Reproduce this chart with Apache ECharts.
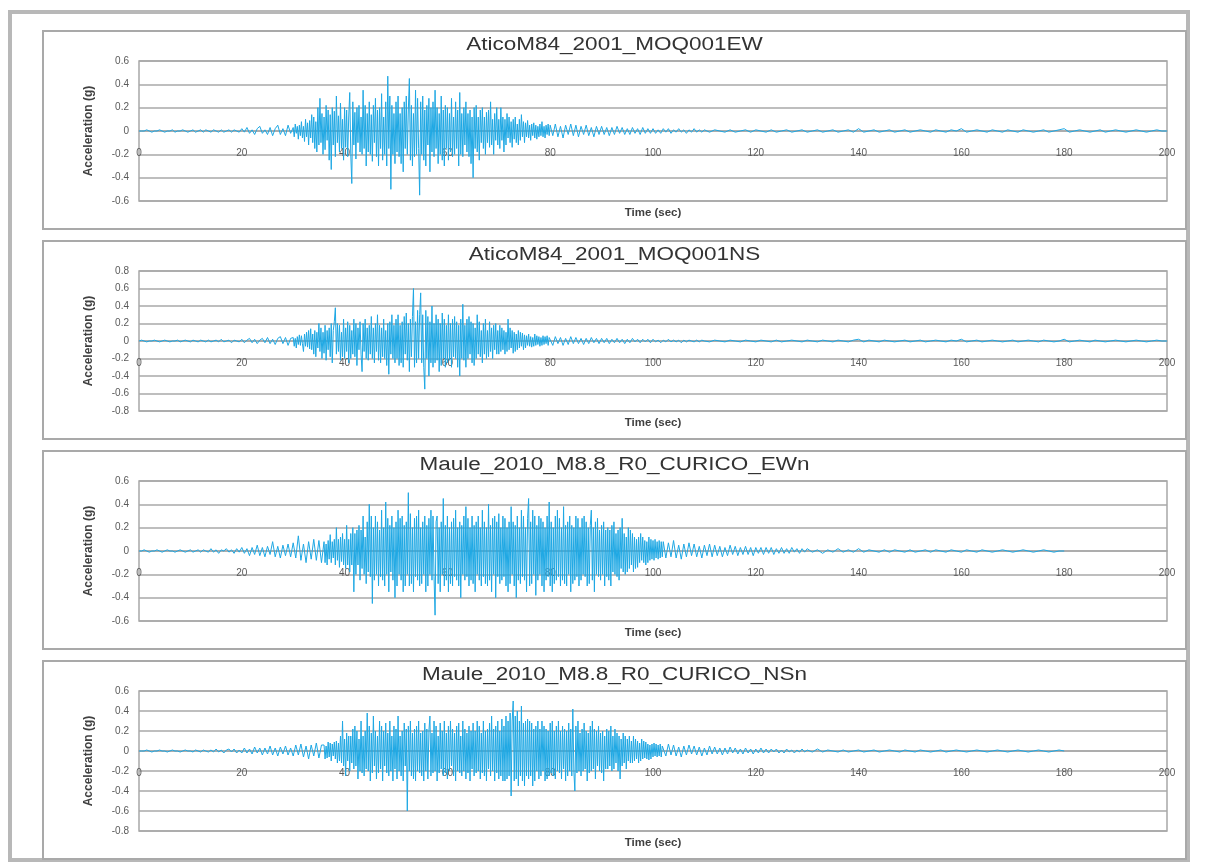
<!DOCTYPE html>
<html><head><meta charset="utf-8">
<script src="https://cdn.jsdelivr.net/npm/echarts@6/dist/echarts.min.js"></script>
<style>html,body{margin:0;padding:0;background:#fff;}#c{width:1207px;height:868px;}</style>
</head><body><div id="c"></div>
<script>
const titles = ['AticoM84_2001_MOQ001EW', 'AticoM84_2001_MOQ001NS', 'Maule_2010_M8.8_R0_CURICO_EWn', 'Maule_2010_M8.8_R0_CURICO_NSn'];
const yMins = [-0.6, -0.8, -0.6, -0.8];
const yMaxs = [0.6, 0.8, 0.6, 0.6];
const xMin = 0, xMax = 200, xStep = 20, yStep = 0.2;
const xName = 'Time (sec)';
const yName = 'Acceleration (g)';

// sampling of each record segment: [start time (s), step (s)]
const aticoSegs = [[0, 0.5], [30, 0.2], [80, 0.5], [110, 1]];
const mauleSegs = [[0, 0.5], [36, 0.2], [102, 0.5], [130, 1]];

// ---- AticoM84_2001_MOQ001EW, acceleration (g) ----
const aticoEW_pre = [
0,0,0,0.01,0,-0.01,0,0,0.01,0,-0.01,0,0,0.01,-0.01,0,0,0.01,0,-0.01,
0,0.01,-0.01,0,0.01,-0.01,0.01,0,-0.01,0.01,0,-0.01,0.01,-0.01,0,0.01,-0.01,0.01,0,-0.01,
0.02,-0.01,0.03,-0.02,0.01,-0.03,0.02,0.04,-0.02,0.01,-0.03,0.03,-0.04,0.02,0.05,-0.03,0.02,-0.04,0.05,-0.02];
const aticoEW_main = [
0.03,-0.05,0.06,-0.02,0.04, -0.07,0.05,-0.04,0.08,-0.06, 0.04,-0.09,0.1,-0.05,0.07, -0.12,0.09,-0.06,0.14,-0.1, 0.12,-0.15,0.08,-0.18,0.2,
-0.12,0.28,-0.1,0.15,-0.2, 0.12,-0.16,0.22,-0.08,0.18, -0.25,0.14,-0.33,0.2,-0.12, 0.17,-0.22,0.3,-0.1,0.13, -0.18,0.24,-0.15,0.1,-0.25,
0.2,-0.14,0.18,-0.22,0.12, 0.33,-0.2,-0.45,0.25,-0.12, 0.16,-0.24,0.2,-0.1,0.22, -0.18,0.12,-0.2,0.35,-0.15, 0.22,-0.3,0.15,-0.18,0.25,
-0.2,0.14,-0.26,0.22,-0.1, 0.28,-0.22,0.18,-0.3,0.2, -0.15,0.32,-0.25,0.12,-0.2, 0.25,-0.3,0.47,-0.15,0.3, -0.5,0.22,-0.2,0.15,-0.28,
0.25,-0.18,0.3,-0.22,0.15, -0.28,0.2,-0.35,0.25,-0.15, 0.3,-0.2,0.18,0.45,-0.25, 0.22,-0.3,0.15,-0.22,0.35, -0.2,0.28,-0.15,-0.55,0.25,
-0.2,0.3,-0.25,0.18,-0.3, 0.22,-0.12,0.28,-0.35,0.2, -0.18,0.25,-0.22,0.35,-0.15, 0.2,-0.28,0.15,-0.2,0.3, -0.25,0.18,-0.3,0.22,-0.15,
0.2,-0.25,0.15,-0.18,0.28, -0.22,0.12,-0.2,0.25,-0.15, 0.18,-0.3,0.33,-0.2,0.15, -0.22,0.2,-0.12,0.25,-0.18, 0.15,-0.22,0.18,-0.28,0.12,
-0.4,0.2,-0.15,0.22,-0.18, 0.12,-0.25,0.18,-0.1,0.2, -0.15,0.12,-0.2,0.16,-0.1, 0.18,-0.14,0.25,-0.12,0.1, -0.2,0.15,-0.08,0.2,-0.12,
0.1,-0.15,0.2,-0.08,0.12, -0.18,0.1,-0.12,0.15,-0.06, 0.12,-0.1,0.08,-0.14,0.1, -0.07,0.12,-0.1,0.06,-0.12, 0.1,-0.08,0.14,-0.05,0.08,
-0.1,0.07,-0.05,0.09,-0.06, 0.05,-0.08,0.06,-0.04,0.07, -0.06,0.05,-0.07,0.04,-0.05, 0.06,-0.04,0.08,-0.05,0.04, -0.06,0.05,-0.03,0.06,-0.04];
const aticoEW_post = [
0.05,-0.04,0.06,-0.05,0.04,-0.06,0.05,-0.03,0.06,-0.04,0.05,-0.05,0.04,-0.03,0.05,-0.04,0.03,-0.05,0.04,-0.03,
0.04,-0.03,0.03,-0.04,0.03,-0.03,0.04,-0.02,0.03,-0.03,0.02,-0.03,0.03,-0.02,0.02,-0.03,0.03,-0.02,0.02,-0.02,
0.02,-0.02,0.01,-0.02,0.02,-0.01,0.02,-0.02,0.01,-0.01,0.02,-0.01,0.01,-0.02,0.01,-0.01,0.02,-0.01,0.01,-0.01];
const aticoEW_tail = [
0.01,-0.01,0.01,0,-0.01,0.01,-0.01,0,0.01,-0.01, 0.01,0,-0.01,0.01,-0.01,0,0.01,-0.01,0,0.01, -0.01,0,0.01,-0.01,0,0.01,-0.01,0,0.01,-0.01,
0.02,-0.01,0,0.01,-0.01,0,0.01,-0.01,0,0.01, -0.01,0,0.01,0,-0.01,0.01,0,-0.01,0.01,0, 0.02,-0.01,0,0.01,0,-0.01,0.01,0,-0.01,0.01,
0,-0.01,0.01,0,-0.01,0,0.01,-0.01,0,0.01, 0.02,-0.01,0,0.01,0,-0.01,0,0.01,-0.01,0, 0.01,0,-0.01,0,0.01,0,-0.01,0,0.01,0, 0];

// ---- AticoM84_2001_MOQ001NS ----
const aticoNS_pre = [
0,0.01,0,-0.01,0,0,0.01,0,-0.01,0,0.01,0,-0.01,0,0,0.01,-0.01,0,0.01,0,
-0.01,0.01,0,-0.01,0.01,0,-0.01,0.01,-0.01,0,0.01,-0.01,0.02,-0.01,0,0.01,-0.02,0.01,0,-0.01,
0.02,-0.02,0.01,0.03,-0.02,0.02,-0.03,0.01,0.03,-0.02,0.04,-0.03,0.02,-0.04,0.03,0.05,-0.03,0.04,-0.05,0.03];
const aticoNS_main = [
0.04,-0.06,0.03,-0.08,0.05, -0.04,0.07,-0.05,0.06,-0.03, -0.12,0.08,-0.06,0.1,-0.07, 0.12,-0.09,0.14,-0.1,0.08, -0.15,0.12,-0.18,0.1,-0.08,
0.2,-0.12,0.15,-0.2,0.1, -0.14,0.18,-0.22,0.12,-0.1, 0.15,-0.18,0.2,-0.25,0.12, 0.22,0.38,-0.15,0.2,-0.12, 0.18,-0.22,0.1,-0.18,0.25,
-0.2,0.15,-0.12,0.22,-0.25, 0.18,-0.2,0.12,-0.15,0.25, -0.18,0.2,-0.28,0.15,-0.1, 0.22,-0.15,-0.35,0.2,-0.12, 0.25,-0.2,0.15,-0.22,0.18,
-0.15,0.28,-0.2,0.15,-0.25, 0.2,-0.12,0.3,-0.22,0.18, -0.25,0.15,-0.18,0.25,-0.2, 0.12,-0.28,0.2,-0.38,0.22, -0.15,0.3,-0.2,0.18,-0.25,
0.25,-0.2,0.3,-0.28,0.18, -0.25,0.22,-0.3,0.28,-0.15, 0.32,-0.22,0.2,-0.35,0.25, -0.18,0.28,0.6,-0.3,0.22, -0.25,0.35,-0.2,0.3,0.55,
-0.25,0.3,-0.3,-0.55,0.35, -0.2,0.28,-0.4,0.22,-0.25, 0.4,-0.3,0.2,-0.25,0.3, -0.22,0.25,-0.35,0.2,-0.28, 0.32,-0.2,0.25,-0.3,0.18,
-0.25,0.3,-0.22,0.2,-0.3, 0.25,-0.18,0.28,-0.2,0.22, -0.3,0.18,-0.4,0.25,-0.2, 0.42,-0.22,0.18,-0.3,0.25, -0.2,0.28,-0.15,0.22,-0.25,
0.2,-0.28,0.15,-0.2,0.3, -0.15,0.22,-0.18,0.12,-0.25, 0.2,-0.15,0.25,-0.2,0.12, -0.18,0.22,-0.12,0.15,-0.2, 0.18,-0.1,0.2,-0.15,0.12,
-0.15,0.18,-0.12,0.15,-0.1, 0.12,-0.15,0.1,-0.12,0.25, -0.1,0.15,-0.08,0.12,-0.14, 0.1,-0.12,0.08,-0.1,0.12, -0.08,0.1,-0.06,0.09,-0.1,
0.07,-0.08,0.06,-0.05,0.08, -0.06,0.05,-0.07,0.04,-0.06, 0.08,-0.05,0.06,-0.04,0.05, -0.06,0.04,-0.05,0.06,-0.04, 0.05,-0.03,0.06,-0.05,0.04];
const aticoNS_post = [
0.04,-0.05,0.05,-0.03,0.04,-0.05,0.03,-0.04,0.05,-0.03,0.04,-0.03,0.03,-0.04,0.03,-0.03,0.04,-0.02,0.03,-0.03,
0.03,-0.02,0.03,-0.03,0.02,-0.02,0.03,-0.02,0.02,-0.03,0.02,-0.02,0.03,-0.01,0.02,-0.02,0.02,-0.01,0.02,-0.02,
0.02,-0.01,0.01,-0.02,0.01,-0.01,0.02,-0.01,0.01,-0.01,0.01,-0.02,0.01,-0.01,0.01,0,-0.01,0.01,-0.01,0.01];
const aticoNS_tail = [
0,-0.01,0.01,0,-0.01,0.01,0,-0.01,0.01,0, -0.01,0.01,0,-0.01,0.01,-0.01,0,0.01,0,-0.01, 0.01,0,-0.01,0.01,0,-0.01,0.01,0,-0.01,0.01,
0.02,-0.01,0.01,0,-0.01,0.01,0,-0.01,0,0.01, -0.01,0,0.01,-0.01,0,0.01,0,-0.01,0.01,0, 0.02,-0.01,0,0.01,-0.01,0,0.01,0,-0.01,0,
0.01,-0.01,0,0.01,0,-0.01,0.01,0,-0.01,0, 0.02,-0.01,0,0.01,0,-0.01,0.01,0,-0.01,0, 0.01,0,-0.01,0,0.01,0,-0.01,0,0.01,0, 0];

// ---- Maule_2010_M8.8_R0_CURICO_EWn ----
const mauleEW_pre = [
0,0,0.01,0,-0.01,0,0,0.01,0,-0.01,0,0.01,0,0,-0.01,0,0.01,0,-0.01,0,
0.01,-0.01,0,0.01,-0.01,0.01,0,-0.01,0.02,-0.01,0.01,-0.02,0.01,0,0.02,-0.01,0.01,-0.02,0.02,-0.01,
0.03,-0.02,0.02,-0.04,0.03,-0.03,0.05,-0.04,0.03,-0.05,0.04,-0.03,0.08,-0.05,0.04,-0.06,0.05,-0.04,0.06,-0.05,
0.07,-0.06,0.13,-0.08,0.06,-0.1,0.08,-0.07,0.1,-0.08,0.09,-0.1];
const mauleEW_main = [
0.08,-0.1,0.06,-0.12,0.09, -0.07,0.14,-0.1,0.08,-0.06, 0.1,-0.12,0.2,-0.08,0.1, -0.14,0.12,-0.09,0.15,-0.12, 0.1,-0.15,0.22,-0.12,0.1,
-0.18,0.15,-0.12,0.2,-0.35, 0.15,-0.2,0.18,-0.12,0.22, -0.25,0.18,-0.15,0.3,-0.2, 0.12,-0.28,0.25,-0.18,0.4, -0.22,0.3,-0.45,0.2,-0.25,
0.3,-0.2,0.25,-0.3,0.18, -0.22,0.35,-0.25,0.2,-0.3, 0.42,-0.2,0.28,-0.35,0.22, -0.18,0.3,-0.25,0.2,-0.4, 0.25,-0.3,0.35,-0.2,0.28,
-0.25,0.3,-0.35,0.22,-0.3, 0.25,-0.2,0.5,-0.3,0.32, -0.28,0.2,-0.35,0.28,-0.22, 0.3,-0.25,0.35,-0.3,0.2, -0.28,0.25,-0.2,0.3,-0.35,
0.22,-0.3,0.28,-0.2,0.35, -0.25,0.3,-0.22,-0.55,0.25, 0.3,-0.28,0.2,-0.35,0.25, -0.2,0.45,-0.3,0.22,-0.25, 0.3,-0.35,0.2,-0.28,0.25,
-0.3,0.28,-0.22,0.35,-0.25, 0.2,-0.3,0.25,-0.4,0.22, -0.2,0.3,-0.25,0.38,-0.22, 0.28,-0.3,0.2,-0.25,0.3, -0.28,0.22,-0.35,0.25,-0.2,
0.3,-0.25,0.2,-0.3,0.35, -0.22,0.25,-0.28,0.2,-0.3, 0.4,-0.25,0.22,-0.35,0.28, -0.2,0.3,-0.4,0.25,-0.22, 0.32,-0.28,0.2,-0.25,0.3,
-0.22,0.28,-0.3,0.2,-0.35, 0.25,-0.28,0.38,-0.2,0.25, -0.3,0.22,-0.4,0.3,-0.25, 0.2,-0.28,0.35,-0.22,0.3, -0.25,0.2,-0.35,0.28,0.45,
-0.3,0.25,-0.28,0.35,-0.2, 0.3,-0.38,0.22,-0.25,0.3, -0.2,0.28,-0.3,0.25,-0.35, 0.2,-0.25,0.3,-0.22,0.42, -0.3,0.25,-0.35,0.2,-0.28,
0.3,-0.25,0.35,-0.22,0.28, -0.3,0.2,-0.25,0.38,-0.28, 0.22,-0.3,0.25,-0.2,0.3, -0.35,0.22,-0.28,0.2,-0.25, 0.3,-0.22,0.28,-0.3,0.2,
-0.25,0.28,-0.2,0.3,-0.22, 0.25,-0.3,0.2,-0.28,0.22, 0.35,-0.25,0.2,-0.35,0.25, -0.2,0.28,-0.22,0.18,-0.25, 0.22,-0.2,0.25,-0.3,0.18,
-0.22,0.2,-0.25,0.18,-0.3, 0.22,-0.18,0.25,-0.2,0.15, -0.22,0.18,-0.25,0.2,-0.15, 0.28,-0.18,0.15,-0.2,0.12, -0.18,0.2,-0.15,0.18,-0.12,
0.15,-0.18,0.12,-0.15,0.1, -0.14,0.12,-0.1,0.15,-0.08, 0.12,-0.1,0.09,-0.12,0.08, -0.1,0.12,-0.08,0.1,-0.07, 0.09,-0.08,0.1,-0.06,0.08,
-0.07,0.09,-0.06,0.08,-0.05];
const mauleEW_post = [
0.08,-0.06,0.07,-0.05,0.09,-0.06,0.05,-0.07,0.06,-0.05,0.07,-0.04,0.06,-0.05,0.04,-0.06,0.05,-0.04,0.06,-0.05,
0.05,-0.04,0.04,-0.05,0.03,-0.04,0.05,-0.03,0.04,-0.04,0.03,-0.03,0.04,-0.03,0.03,-0.04,0.03,-0.02,0.03,-0.03,
0.03,-0.02,0.03,-0.03,0.02,-0.02,0.03,-0.02,0.02,-0.02,0.03,-0.01,0.02,-0.02,0.02,-0.01];
const mauleEW_tail = [
0.02,-0.01,0.01,-0.02,0.01,-0.01,0.02,-0.01,0.01,-0.01, 0.02,-0.01,0.01,0,-0.01,0.01,-0.01,0.01,0,-0.01,
0.01,-0.01,0,0.01,-0.01,0.01,0,-0.01,0.01,0, -0.01,0.01,0,-0.01,0.01,0,-0.01,0,0.01,0,
-0.01,0,0.01,0,-0.01,0,0.01,0,-0.01,0, 0];

// ---- Maule_2010_M8.8_R0_CURICO_NSn ----
const mauleNS_pre = [
0,0,0,0.01,0,-0.01,0,0,0.01,0,0,-0.01,0,0.01,0,0,-0.01,0,0.01,0,
0,-0.01,0.01,0,-0.01,0.01,0,-0.01,0.01,-0.01,0.02,-0.01,0.01,-0.02,0.01,0.02,-0.01,0.02,-0.02,0.01,
-0.02,0.03,-0.02,0.02,-0.03,0.04,-0.02,0.03,-0.04,0.03,-0.03,0.05,-0.04,0.03,-0.05,0.04,-0.03,0.05,-0.04,0.03,
-0.05,0.06,-0.04,0.07,-0.06,0.05,-0.08,0.06,-0.05,0.08,-0.07,0.06];
const mauleNS_main = [
0.06,-0.08,0.05,-0.07,0.09, -0.06,0.08,-0.1,0.07,-0.05, 0.09,-0.08,0.1,-0.12,0.08, -0.1,0.15,-0.12,0.3,-0.15, 0.12,-0.25,0.18,-0.1,0.15,
-0.2,0.15,-0.12,0.22,-0.18, 0.25,-0.15,0.2,-0.28,0.12, -0.2,0.3,-0.22,0.15,-0.25, 0.2,-0.18,0.38,-0.2,0.25, -0.3,0.18,-0.22,0.35,-0.15,
0.2,-0.28,0.15,-0.22,0.3, -0.18,0.25,-0.3,0.2,-0.15, 0.28,-0.22,0.18,-0.25,0.3, -0.2,0.15,-0.3,0.25,-0.18, 0.22,-0.28,0.35,-0.2,0.15,
-0.25,0.2,-0.3,0.28,-0.15, 0.22,-0.6,0.25,-0.2,0.3, -0.25,0.18,-0.28,0.22,-0.3, 0.25,-0.2,0.3,-0.22,0.18, -0.25,0.2,-0.3,0.28,-0.2,
0.22,-0.28,0.2,0.35,-0.25, 0.18,-0.22,0.3,-0.2,0.25, -0.3,0.15,-0.22,0.28,-0.18, 0.2,-0.25,0.3,-0.22,0.18, -0.28,0.25,-0.2,0.3,-0.15,
0.22,-0.25,0.18,-0.3,0.25, -0.2,0.28,-0.22,0.15,-0.25, 0.3,-0.2,0.22,-0.28,0.18, -0.22,0.25,-0.3,0.2,-0.18, 0.28,-0.25,0.2,-0.22,0.3,
-0.2,0.25,-0.28,0.18,-0.22, 0.3,-0.25,0.2,-0.3,0.22, -0.18,0.28,-0.25,0.35,-0.2, 0.22,-0.3,0.25,-0.22,0.3, -0.28,0.2,-0.25,0.32,-0.3,
0.25,-0.3,0.35,-0.28,0.3, -0.25,0.38,-0.45,0.3,0.5, -0.3,0.35,-0.28,0.4,-0.35, 0.3,-0.25,0.45,-0.3,0.28, -0.35,0.3,-0.25,0.32,-0.28,
0.3,-0.25,0.28,-0.35,0.22, -0.3,0.25,-0.2,0.3,-0.28, 0.22,-0.25,0.3,-0.2,0.25, -0.3,0.22,-0.28,0.2,-0.25, 0.28,-0.22,0.3,-0.25,0.2,
-0.28,0.25,-0.2,0.3,-0.22, 0.2,-0.28,0.25,-0.18,0.22, -0.3,0.2,-0.25,0.28,-0.2, 0.22,-0.25,0.42,-0.2,-0.4, 0.25,-0.22,0.3,-0.2,0.18,
-0.25,0.22,-0.2,0.28,-0.18, 0.2,-0.3,0.18,-0.22,0.25, -0.2,0.3,-0.18,0.22,-0.28, 0.2,-0.15,0.25,-0.2,0.18, -0.22,0.2,-0.3,0.15,-0.18,
0.22,-0.18,0.2,-0.15,0.25, -0.2,0.15,-0.18,0.22,-0.12, 0.18,-0.2,0.15,-0.28,0.12, -0.15,0.18,-0.12,0.15,-0.18, 0.12,-0.1,0.15,-0.12,0.1,
-0.12,0.15,-0.1,0.12,-0.08, 0.1,-0.12,0.08,-0.1,0.12, -0.08,0.1,-0.07,0.09,-0.08, 0.07,-0.09,0.06,-0.08,0.07, -0.06,0.08,-0.05,0.07,-0.06,
0.06,-0.05,0.07,-0.06,0.05];
const mauleNS_post = [
0.06,-0.05,0.07,-0.04,0.06,-0.05,0.04,-0.06,0.05,-0.04,0.06,-0.03,0.05,-0.04,0.04,-0.05,0.03,-0.04,0.05,-0.03,
0.04,-0.03,0.03,-0.04,0.03,-0.03,0.04,-0.02,0.03,-0.03,0.02,-0.03,0.03,-0.02,0.02,-0.03,0.02,-0.02,0.03,-0.02,
0.02,-0.02,0.02,-0.01,0.02,-0.02,0.01,-0.02,0.02,-0.01,0.01,-0.02,0.01,-0.01,0.02,-0.01];
const mauleNS_tail = [
0.01,-0.01,0.02,-0.01,0.01,0,-0.01,0.01,-0.01,0, 0.01,-0.01,0,0.01,-0.01,0,0.01,0,-0.01,0.01,
0,-0.01,0.01,0,-0.01,0,0.01,-0.01,0,0.01, 0,-0.01,0,0.01,0,-0.01,0,0.01,0,-0.01,
0,0.01,0,-0.01,0,0.01,0,-0.01,0,0.01, 0];

const records = [
  {parts: [aticoEW_pre, aticoEW_main, aticoEW_post, aticoEW_tail], segs: aticoSegs},
  {parts: [aticoNS_pre, aticoNS_main, aticoNS_post, aticoNS_tail], segs: aticoSegs},
  {parts: [mauleEW_pre, mauleEW_main, mauleEW_post, mauleEW_tail], segs: mauleSegs},
  {parts: [mauleNS_pre, mauleNS_main, mauleNS_post, mauleNS_tail], segs: mauleSegs}
];
function assemble(rec) {
  const out = [];
  rec.parts.forEach((arr, j) => {
    const [t0, step] = rec.segs[j];
    arr.forEach((v, k) => out.push([Math.round((t0 + k * step) * 100) / 100, v]));
  });
  return out;
}

// ---- layout ----
const plotLeft = 139, plotWidth = 1028, plotHeight = 140;
const plotTops = [61, 271, 481, 691];
const boxLeft = 43, boxRight = 1186;
const lineColor = '#1ea8e4';
const gridColor = '#a8a8a8';
const labelColor = '#5a5a5a';
const font = '"Liberation Sans", Arial, sans-serif';

const grids = [], xAxes = [], yAxes = [], series = [], graphics = [];

graphics.push({
  type: 'rect', shape: {x: 10, y: 12, width: 1178, height: 848},
  style: {fill: 'none', stroke: '#b8b8b8', lineWidth: 4}, z: 0
});

records.forEach((rec, i) => {
  const top = plotTops[i];
  // the time axis sits on the zero line of the acceleration axis
  const zeroOffset = -plotHeight * (0 - yMins[i]) / (yMaxs[i] - yMins[i]);
  grids.push({left: plotLeft, top: top, width: plotWidth, height: plotHeight,
    show: true, borderColor: gridColor, borderWidth: 1.5, backgroundColor: 'transparent'});
  xAxes.push({
    type: 'value', gridIndex: i, min: xMin, max: xMax, interval: xStep,
    position: 'bottom', offset: zeroOffset,
    axisLine: {show: true, onZero: false, lineStyle: {color: gridColor, width: 1.5}},
    axisTick: {show: false},
    splitLine: {show: false},
    axisLabel: {show: true, margin: 17, fontSize: 10, color: labelColor, fontFamily: font,
      showMinLabel: true, showMaxLabel: true}
  });
  yAxes.push({
    type: 'value', gridIndex: i, min: yMins[i], max: yMaxs[i], interval: yStep,
    axisLine: {show: false}, axisTick: {show: false},
    splitLine: {show: true, lineStyle: {color: gridColor, width: 1.5}},
    axisLabel: {margin: 10, fontSize: 10, color: labelColor, fontFamily: font,
      formatter: v => String(Math.round(v * 10) / 10)},
    name: yName, nameLocation: 'middle', nameRotate: 90, nameGap: 44,
    nameTextStyle: {fontSize: 12, fontWeight: 'bold', color: '#404040', fontFamily: font}
  });
  series.push({
    type: 'line', xAxisIndex: i, yAxisIndex: i, showSymbol: false, silent: true,
    data: assemble(rec),
    lineStyle: {color: lineColor, width: 1}, z: 3
  });
  graphics.push({
    type: 'rect', shape: {x: boxLeft, y: top - 30, width: boxRight - boxLeft, height: 198},
    style: {fill: 'none', stroke: '#a9a9a9', lineWidth: 2}, z: 1
  });
  graphics.push({
    type: 'text', x: (boxLeft + boxRight) / 2, y: top - 16, scaleX: 1.25,
    style: {text: titles[i], fontSize: 18, fontFamily: font, fill: '#333',
      align: 'center', verticalAlign: 'middle', textAlign: 'center', textVerticalAlign: 'middle'}
  });
  graphics.push({
    type: 'text', x: plotLeft + plotWidth / 2, y: top + plotHeight + 12, scaleX: 1.15,
    style: {text: xName, fontSize: 10, fontWeight: 'bold', fontFamily: font, fill: '#404040',
      align: 'center', verticalAlign: 'middle', textAlign: 'center', textVerticalAlign: 'middle'}
  });
});

const chart = echarts.init(document.getElementById('c'), null, {renderer: 'canvas'});
chart.setOption({
  animation: false,
  backgroundColor: '#fff',
  grid: grids, xAxis: xAxes, yAxis: yAxes, series: series,
  graphic: {elements: graphics}
});
</script></body></html>
